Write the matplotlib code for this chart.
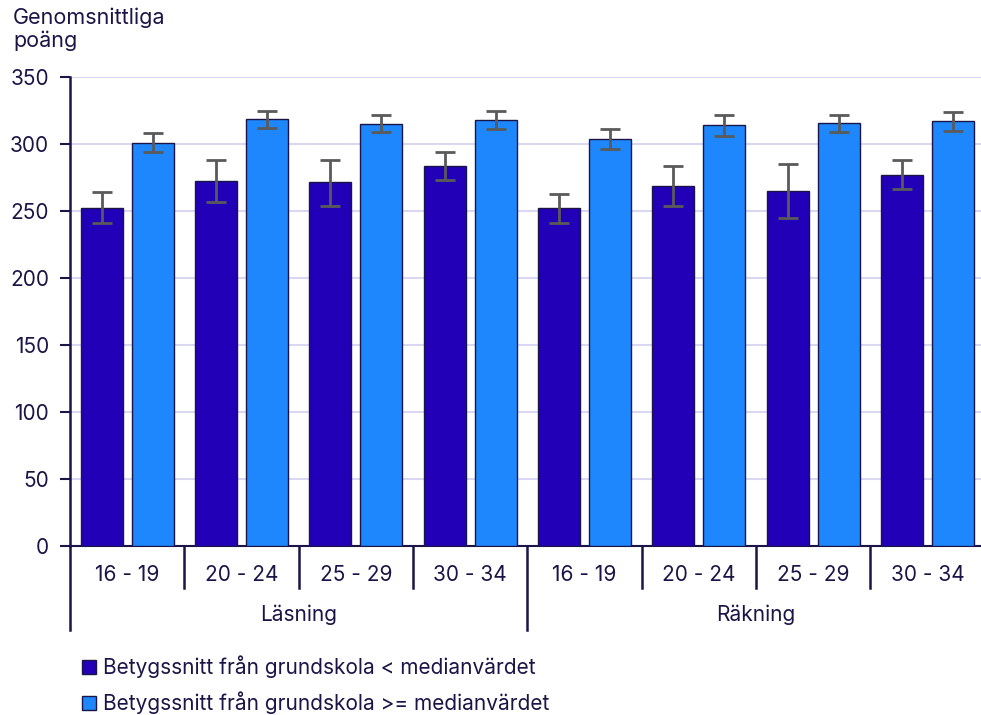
import numpy as np
import matplotlib
matplotlib.use('Agg')
import matplotlib.pyplot as plt
import matplotlib.transforms as mtransforms

plt.rcParams['font.family'] = ['Inter', 'DejaVu Sans']

# data
ages = ['16 - 19', '20 - 24', '25 - 29', '30 - 34']
subjects = ['Läsning', 'Räkning']
series_names = ['Betygssnitt från grundskola < medianvärdet',
                'Betygssnitt från grundskola >= medianvärdet']

low_mean = [252.5, 272.6, 271.4, 283.6, 252.2, 268.9, 264.9, 277.1]
low_lo   = [241.0, 256.7, 253.7, 273.0, 241.0, 253.7, 244.5, 266.2]
low_hi   = [264.0, 288.3, 288.3, 294.0, 263.0, 283.8, 284.8, 288.0]

high_mean = [301.0, 318.4, 315.2, 318.0, 304.0, 313.9, 315.7, 316.9]
high_lo   = [293.8, 312.0, 309.0, 311.4, 296.5, 306.2, 309.0, 309.5]
high_hi   = [308.0, 324.9, 321.6, 325.0, 311.4, 321.4, 322.0, 323.9]

yticks = [0, 50, 100, 150, 200, 250, 300, 350]

txt = '#1b1547'
c_low = '#2200b8'
c_high = '#1e87fe'
edge = '#1b1547'
grid_c = '#d9d8f0'
err_c = '#5a5a5a'
fs = 15

fig = plt.figure(figsize=(9.81, 7.15), dpi=100)
ax = fig.add_axes([70/981, 1-546/715, 914.7/981, 469/715])

n = len(low_mean)
x = np.arange(n)
w = 0.367
ax.bar(x - 0.2225, low_mean, width=w, color=c_low, edgecolor=edge, linewidth=1, zorder=3)
ax.bar(x + 0.2225, high_mean, width=w, color=c_high, edgecolor=edge, linewidth=1, zorder=3)

lm, ll, lh = map(np.array, (low_mean, low_lo, low_hi))
hm, hl, hh = map(np.array, (high_mean, high_lo, high_hi))
ax.errorbar(x - 0.2225, lm, yerr=[lm - ll, lh - lm], fmt='none', ecolor=err_c,
            elinewidth=2, capsize=7, capthick=2, zorder=4)
ax.errorbar(x + 0.2225, hm, yerr=[hm - hl, hh - hm], fmt='none', ecolor=err_c,
            elinewidth=2, capsize=7, capthick=2, zorder=4)

ax.set_xlim(-0.5, n - 0.5)
ax.set_ylim(0, 350)
ax.set_yticks(yticks)
ax.yaxis.grid(True, color=grid_c, linewidth=1.5, zorder=0)
ax.set_axisbelow(True)
ax.tick_params(axis='y', length=7, width=1.5, color=txt, labelsize=fs, labelcolor=txt, pad=8)
ax.set_xticks([])
for s in ['top', 'right']:
    ax.spines[s].set_visible(False)
ax.spines['left'].set_color(txt)
ax.spines['left'].set_linewidth(1.8)
ax.spines['bottom'].set_color(txt)
ax.spines['bottom'].set_linewidth(1.5)

# two-level category axis
trans = mtransforms.blended_transform_factory(ax.transData, ax.transAxes)
h = 469.0
short = -42 / h
long = -84 / h
for i in range(n):
    xe = i - 0.5
    bottom = long if i % 4 == 0 else short
    ax.plot([xe, xe], [0, bottom], transform=trans, color=txt, lw=1.8, clip_on=False)
for i in range(n):
    ax.text(i, -29 / h, ages[i % 4], transform=trans, ha='center', va='center',
            fontsize=fs, color=txt)
for j, s in enumerate(subjects):
    ax.text(j * 4 + 1.5, -69 / h, s, transform=trans, ha='center', va='center',
            fontsize=fs, color=txt)

fig.text(13/981, 1-7/715, 'Genomsnittliga\npoäng', ha='left', va='top',
         fontsize=15.5, color=txt, linespacing=1.2)

# legend
for k, (name, c) in enumerate(zip(series_names, [c_low, c_high])):
    yy = 1 - (667 + 36 * k) / 715
    fig.patches.append(plt.Rectangle((82/981, yy - 7/715), 14/981, 14/715,
                                     transform=fig.transFigure, facecolor=c,
                                     edgecolor=edge, linewidth=1))
    fig.text(103/981, yy, name, ha='left', va='center', fontsize=fs, color=txt)

fig.savefig('out.png', dpi=100)
